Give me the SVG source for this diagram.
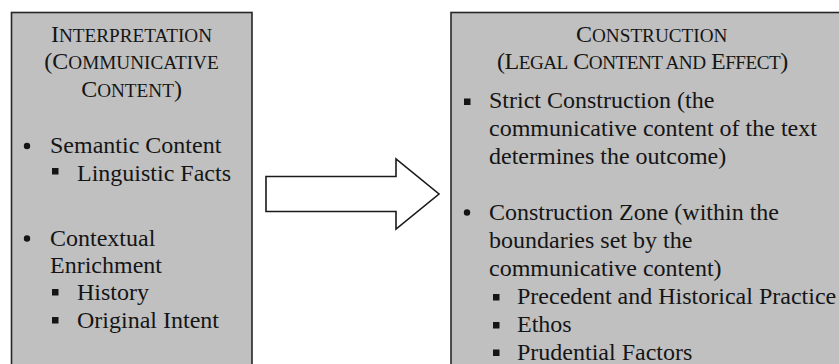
<svg xmlns="http://www.w3.org/2000/svg" width="839" height="364" viewBox="0 0 839 364">
  <style>
    .box { fill: #c0c0c0; stroke: #262626; stroke-width: 1.6; }
    .t { font-family: "Liberation Serif", "Times New Roman", serif; font-size: 24px; fill: #151515; }
    .sc { font-size: 19.2px; }
    .dot { fill: #151515; }
    .sq { fill: #151515; }
    .arrow { fill: #ffffff; stroke: #1a1a1a; stroke-width: 1.6; stroke-linejoin: miter; }
  </style>
  <rect width="839" height="364" fill="#ffffff"/>

  <g id="node-interpretation">
    <rect class="box" x="11.5" y="12.5" width="240.5" height="360"/>
    <text class="t" x="131.5" y="41.5" text-anchor="middle">I<tspan class="sc">NTERPRETATION</tspan></text>
    <text class="t" x="131.5" y="69" text-anchor="middle">(C<tspan class="sc">OMMUNICATIVE</tspan></text>
    <text class="t" x="131.5" y="96.5" text-anchor="middle">C<tspan class="sc">ONTENT</tspan>)</text>
    <circle class="dot" cx="27" cy="146" r="3.2"/>
    <text class="t" x="50" y="153">Semantic Content</text>
    <rect class="sq" x="52" y="168" width="6.5" height="6.5"/>
    <text class="t" x="77" y="181">Linguistic Facts</text>
    <circle class="dot" cx="27" cy="238.5" r="3.2"/>
    <text class="t" x="50" y="246">Contextual</text>
    <text class="t" x="50" y="273">Enrichment</text>
    <rect class="sq" x="52" y="289" width="6.5" height="6.5"/>
    <text class="t" x="77" y="300">History</text>
    <rect class="sq" x="52" y="317" width="6.5" height="6.5"/>
    <text class="t" x="77" y="328">Original Intent</text>
  </g>

  <g id="connectors">
    <polygon id="arrow-interpretation-construction" class="arrow" points="266,176.5 396,176.5 396,159 439,194 396,229 396,211.5 266,211.5"/>
  </g>

  <g id="node-construction">
    <rect class="box" x="451" y="12.5" width="400" height="360"/>
    <text class="t" x="576" y="41.5">C<tspan class="sc">ONSTRUCTION</tspan></text>
    <text class="t" x="497" y="69" letter-spacing="-0.5">(L<tspan class="sc">EGAL</tspan> C<tspan class="sc">ONTENT AND</tspan> E<tspan class="sc">FFECT</tspan>)</text>
    <rect class="sq" x="464" y="98.5" width="6.5" height="6.5"/>
    <text class="t" x="489" y="108">Strict Construction (the</text>
    <text class="t" x="489" y="136">communicative content of the text</text>
    <text class="t" x="489" y="164">determines the outcome)</text>
    <circle class="dot" cx="467" cy="212.5" r="3.2"/>
    <text class="t" x="489" y="220">Construction Zone (within the</text>
    <text class="t" x="489" y="248">boundaries set by the</text>
    <text class="t" x="489" y="276">communicative content)</text>
    <rect class="sq" x="493" y="294" width="6.5" height="6.5"/>
    <text class="t" x="517" y="304">Precedent and Historical Practice</text>
    <rect class="sq" x="493" y="322" width="6.5" height="6.5"/>
    <text class="t" x="517" y="332">Ethos</text>
    <rect class="sq" x="493" y="349.5" width="6.5" height="6.5"/>
    <text class="t" x="517" y="359.5">Prudential Factors</text>
  </g>
</svg>
